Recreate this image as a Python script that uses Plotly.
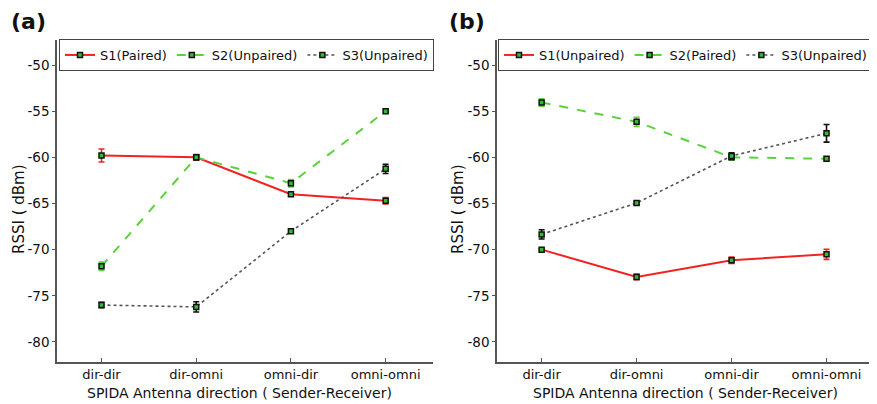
import plotly.graph_objects as go

categories = ["dir-dir", "dir-omni", "omni-dir", "omni-omni"]

# Panel (a)
a_s1 = [-59.8, -60.0, -64.0, -64.7]
a_s1_err = [0.7, 0.3, 0.15, 0.35]
a_s2 = [-71.8, -60.0, -62.8, -55.0]
a_s2_err = [0.45, 0.2, 0.4, 0.15]
a_s3 = [-76.0, -76.2, -68.0, -61.25]
a_s3_err = [0.3, 0.55, 0.15, 0.5]
a_names = ["S1(Paired)", "S2(Unpaired)", "S3(Unpaired)"]

# Panel (b)
b_s1 = [-70.0, -72.95, -71.15, -70.5]
b_s1_err = [0.1, 0.3, 0.35, 0.55]
b_s2 = [-54.05, -56.15, -60.0, -60.15]
b_s2_err = [0.4, 0.5, 0.3, 0.2]
b_s3 = [-68.35, -64.95, -59.85, -57.4]
b_s3_err = [0.5, 0.15, 0.35, 0.95]
b_names = ["S1(Unpaired)", "S2(Paired)", "S3(Unpaired)"]

y_ticks = [-50, -55, -60, -65, -70, -75, -80]

RED = "#f22222"
GREEN = "#5ad23c"
GRAY = "#555555"
FONT = "DejaVu Sans"

# page body has an 8px margin: size the figure to fit and convert window px -> paper
OX, OY = 8, 8
W, H = 869, 396
def px(x):
    return (x - OX) / W
def py(y):
    return 1 - (y - OY) / H

fig = go.Figure()

def add_series(y, err, name, color, dash, width, errcolor, xa, ya, legend):
    fig.add_trace(go.Scatter(
        x=categories, y=y, name=name, mode="lines+markers",
        line=dict(color=color, dash=dash, width=width),
        marker=dict(symbol="square", size=5, color="#33bb33",
                    line=dict(color="#111111", width=1.5)),
        error_y=dict(type="data", array=err, visible=True, color=errcolor,
                     thickness=1.6, width=3),
        xaxis=xa, yaxis=ya, legend=legend,
    ))

add_series(a_s1, a_s1_err, a_names[0], RED, "solid", 2, RED, "x", "y", "legend")
add_series(a_s2, a_s2_err, a_names[1], GREEN, "dash", 2, GREEN, "x", "y", "legend")
add_series(a_s3, a_s3_err, a_names[2], GRAY, "dot", 1.6, "#111111", "x", "y", "legend")
add_series(b_s1, b_s1_err, b_names[0], RED, "solid", 2, RED, "x2", "y2", "legend2")
add_series(b_s2, b_s2_err, b_names[1], GREEN, "dash", 2, GREEN, "x2", "y2", "legend2")
add_series(b_s3, b_s3_err, b_names[2], GRAY, "dot", 1.6, "#111111", "x2", "y2", "legend2")

ydom = [py(362), py(40)]
yrange = [-82.17, -47.29]

xcommon = dict(type="category", range=[-0.47, 3.5], showline=True, linecolor=GRAY,
               linewidth=1.5, ticks="inside", ticklen=4, tickcolor=GRAY, automargin=False,
               showgrid=False, zeroline=False, tickfont=dict(family=FONT, size=13, color="#111"))
ycommon = dict(range=yrange, domain=ydom, tickvals=y_ticks, ticktext=[str(v) for v in y_ticks],
               showline=True, linecolor=GRAY, linewidth=1.5, ticks="outside", ticklen=3,
               tickcolor=GRAY, showgrid=False, zeroline=False, automargin=False,
               tickfont=dict(family=FONT, size=13.5, color="#111"))

legcommon = dict(orientation="h", xanchor="right", yanchor="top", y=py(39),
                 bgcolor="white", bordercolor="#444", borderwidth=1,
                 font=dict(family=FONT, size=13, color="#111"), itemwidth=30,
                 tracegroupgap=0)

fig.update_layout(
    width=W, height=H, autosize=False,
    margin=dict(l=0, r=0, t=0, b=0, autoexpand=False),
    paper_bgcolor="white", plot_bgcolor="white",
    showlegend=True,
    xaxis=dict(domain=[px(57), px(433)], anchor="y", **xcommon),
    yaxis=dict(anchor="x", **ycommon),
    xaxis2=dict(domain=[px(497), px(874)], anchor="y2", **xcommon),
    yaxis2=dict(anchor="x2", **ycommon),
    legend=dict(x=px(434), **legcommon),
    legend2=dict(x=px(873), **legcommon),
)

annots = [
    dict(text="<b>(a)</b>", x=px(9), y=py(21), xanchor="left", yanchor="middle", font=dict(size=22)),
    dict(text="<b>(b)</b>", x=px(447), y=py(21), xanchor="left", yanchor="middle", font=dict(size=22)),
    dict(text="RSSI ( dBm)", x=px(19), y=py(209), textangle=-90, xanchor="center", yanchor="middle", font=dict(size=15)),
    dict(text="RSSI ( dBm)", x=px(458), y=py(209), textangle=-90, xanchor="center", yanchor="middle", font=dict(size=15)),
    dict(text="SPIDA Antenna direction ( Sender-Receiver)", x=px(240), y=py(393), xanchor="center", yanchor="middle", font=dict(size=14)),
    dict(text="SPIDA Antenna direction ( Sender-Receiver)", x=px(685), y=py(393), xanchor="center", yanchor="middle", font=dict(size=14)),
]
for a in annots:
    a.update(xref="paper", yref="paper", showarrow=False)
    a["font"].update(family=FONT, color="#111")
    fig.add_annotation(**a)

fig.write_html("out.html")
